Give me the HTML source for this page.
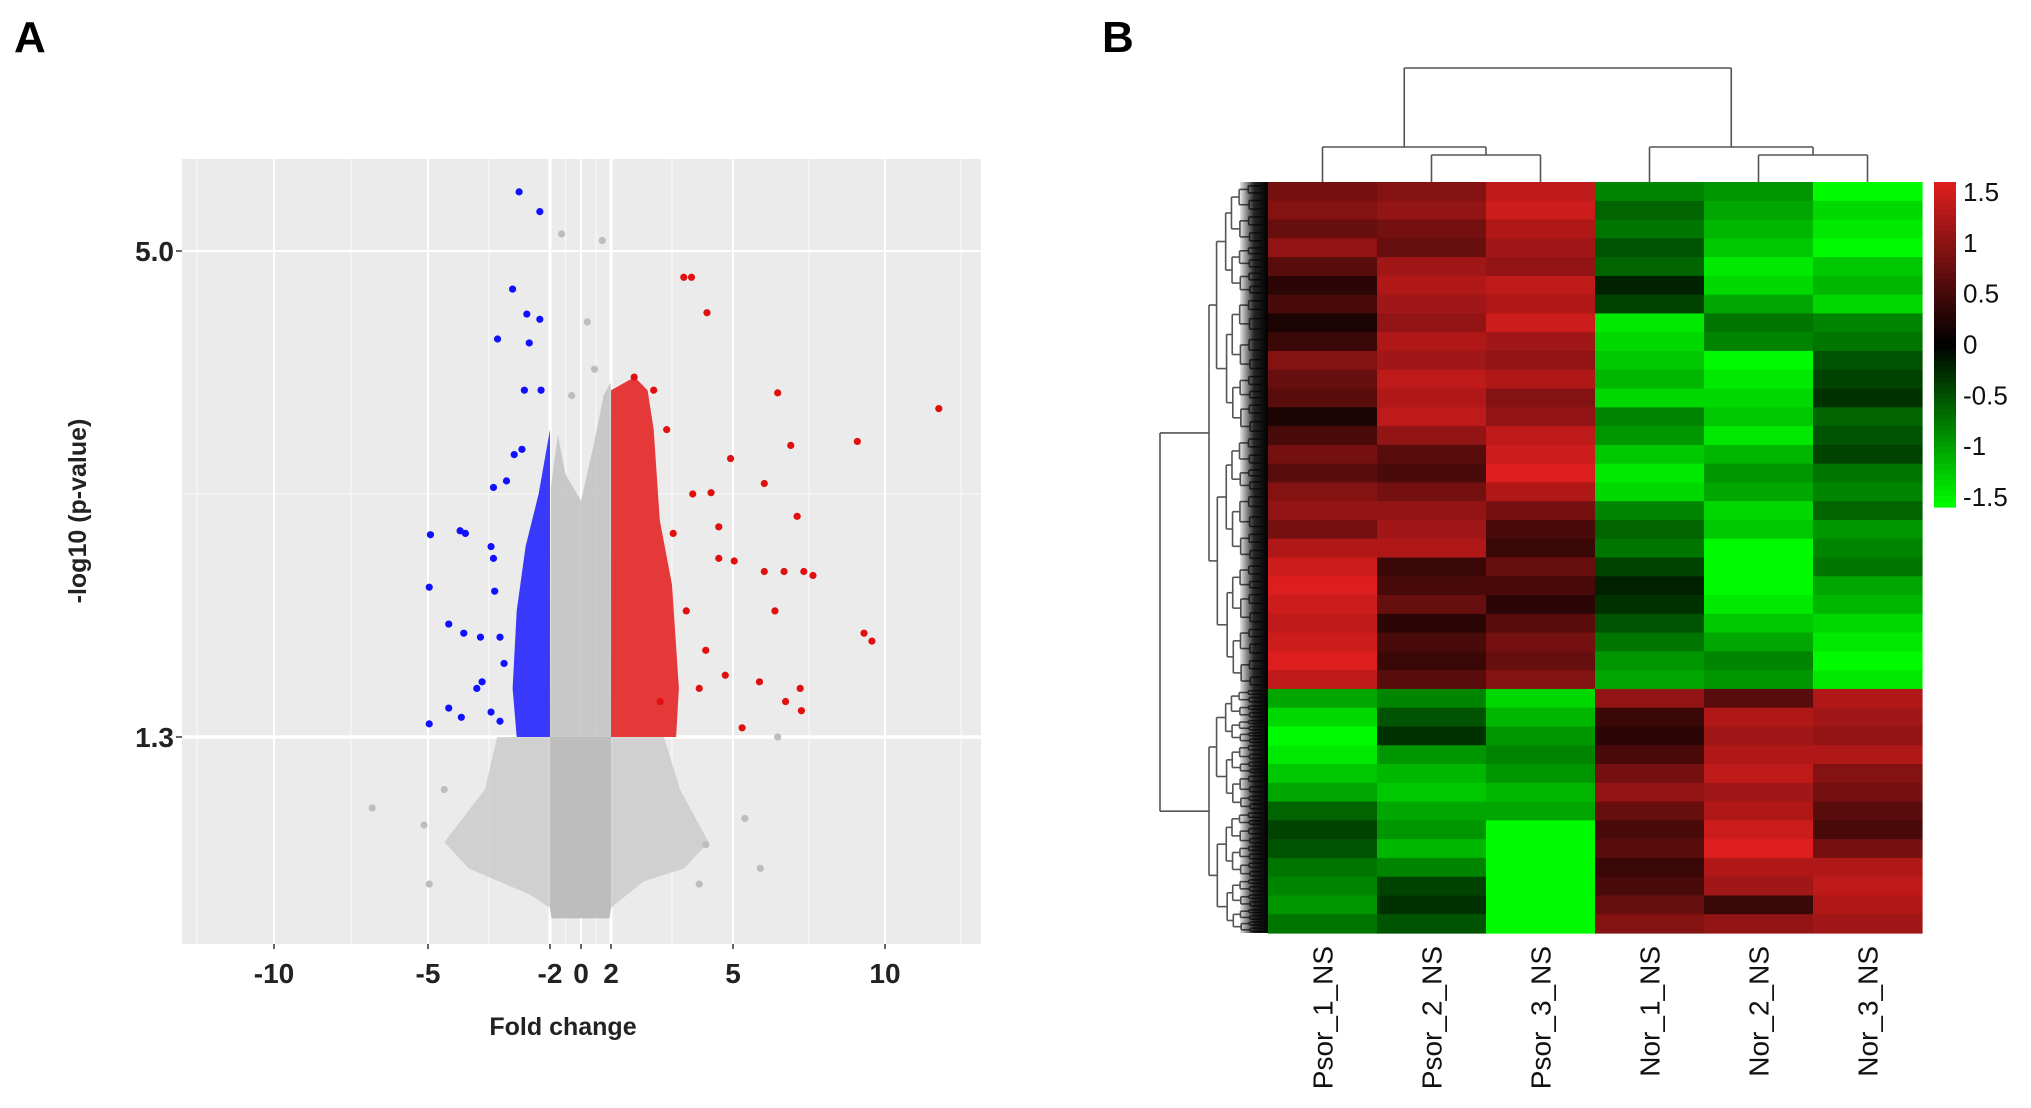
<!DOCTYPE html>
<html><head><meta charset="utf-8">
<style>
html,body{margin:0;padding:0;background:#fff;}
svg{display:block;font-family:"Liberation Sans",sans-serif;}
</style></head>
<body>
<svg id="fig" width="2031" height="1108" viewBox="0 0 2031 1108" xmlns="http://www.w3.org/2000/svg">
  <text x="14" y="52" font-size="44" font-weight="bold">A</text>
  <text x="1102" y="52" font-size="44" font-weight="bold">B</text>
  <g id="volcano"></g>
  <g id="heat"></g>
</svg>
<script>
// ---------- Volcano data ----------
const xTickValues = [-10, -5, -2, 0, 2, 5, 10];
const xTickLabels = ["-10", "-5", "-2", "0", "2", "5", "10"];
const xMinorValues = [-12.5, -7.5, -3.5, -1, 1, 3.5, 7.5, 12.5];
const yTickValues = [5.0, 1.3];
const yTickLabels = ["5.0", "1.3"];
const yMinorValues = [3.15];
const blueFC = [-2.76,-2.25,-2.92,-3.29,-2.57,-2.25,-2.51,-2.63,-2.22,-2.69,-2.88,-4.94,-4.21,-4.08,-4.97,-4.49,-4.12,-3.71,-3.67,-3.80,-4.49,-4.18,-4.97,-3.23,-3.45,-3.39,-3.36,-3.39,-3.07,-3.45,-3.13,-3.23];
const blueP = [5.45,5.30,4.71,4.33,4.52,4.48,4.30,3.94,3.94,3.49,3.45,2.84,2.87,2.85,2.44,2.16,2.09,2.06,1.72,1.67,1.52,1.45,1.40,1.42,1.49,2.66,2.41,3.20,3.25,2.75,1.86,2.06];
const redFC = [3.79,3.98,4.36,6.47,11.77,9.09,6.90,4.94,4.46,6.03,7.11,4.65,7.33,7.63,6.03,6.68,5.04,4.65,3.53,9.31,9.57,7.21,7.25,6.73,5.87,4.81,6.38,4.17,3.21,5.30,3.85,4.33,4.01,3.37,3.05,2.57];
const redP = [4.80,4.80,4.53,3.92,3.80,3.55,3.52,3.42,3.16,3.23,2.98,2.90,2.56,2.53,2.56,2.56,2.64,2.66,2.85,2.09,2.03,1.67,1.50,1.57,1.72,1.77,2.26,1.67,1.57,1.37,2.26,1.96,3.15,3.64,3.94,4.04];
const grayFC = [-1.25,1.42,0.42,-6.81,-5.13,5.39,4.33,4.17,6.47,-4.97,0.9,-0.6,5.9,-4.6];
const grayP = [5.13,5.08,4.46,0.76,0.63,0.68,0.48,0.18,1.30,0.18,4.1,3.9,0.3,0.9];
// density clouds (data units: [fold change, -log10 p])
const redCloud = [[2,1.3],[2,3.94],[2.58,4.04],[2.9,3.94],[3.05,3.64],[3.2,2.95],[3.5,2.46],[3.67,1.67],[3.6,1.3]];
const blueCloud = [[-2,1.3],[-2,3.64],[-2.28,3.15],[-2.6,2.75],[-2.82,2.26],[-2.92,1.67],[-2.82,1.3]];
const grayUpperCloud = [[-2,1.3],[-1.95,3.2],[-1.5,3.6],[-1.0,3.3],[0,3.1],[0.8,3.5],[1.5,3.9],[1.98,4.0],[2,1.3]];
const grayLowerCloud = [[-3.3,1.3],[-3.6,0.9],[-4.6,0.5],[-4.0,0.3],[-2.5,0.1],[-2,0],[-1.9,-0.08],[1.9,-0.08],[2,0],[2.8,0.2],[3.8,0.3],[4.4,0.5],[3.7,0.9],[3.3,1.3]];
const grayCoreCloud = [[-2,1.3],[-2,0],[-1.9,-0.08],[1.9,-0.08],[2,0],[2,1.3]];

// ---------- Heatmap data ----------
const sampleNames = ["Psor_1_NS","Psor_2_NS","Psor_3_NS","Nor_1_NS","Nor_2_NS","Nor_3_NS"];
const psor1 = [0.8,0.9,0.7,1.0,0.6,0.3,0.5,0.2,0.4,0.9,0.7,0.6,0.2,0.5,0.8,0.6,0.9,1.0,0.8,1.2,1.4,1.5,1.4,1.3,1.4,1.5,1.3, -1.0,-1.3,-1.5,-1.4,-1.2,-1.0,-0.6,-0.4,-0.5,-0.7,-0.8,-0.9,-0.7];
const psor2 = [0.9,1.0,0.8,0.7,1.1,1.2,1.1,1.0,1.2,1.1,1.3,1.2,1.3,1.0,0.6,0.5,0.8,1.0,1.1,1.2,0.4,0.5,0.7,0.3,0.5,0.4,0.6, -0.8,-0.5,-0.3,-0.9,-1.1,-1.2,-1.0,-0.9,-1.1,-0.8,-0.4,-0.3,-0.5];
const psor3 = [1.3,1.4,1.2,1.1,1.0,1.3,1.2,1.4,1.1,1.0,1.2,0.9,1.0,1.3,1.4,1.5,1.2,0.8,0.5,0.4,0.7,0.5,0.3,0.6,0.8,0.7,0.9, -1.3,-1.1,-0.9,-0.8,-0.9,-1.1,-1.0,-1.5,-1.6,-1.5,-1.6,-1.5,-1.6];
const nor1 = [-0.8,-0.6,-0.7,-0.5,-0.6,-0.2,-0.4,-1.4,-1.3,-1.2,-1.1,-1.3,-0.8,-0.9,-1.2,-1.4,-1.3,-0.8,-0.6,-0.7,-0.4,-0.2,-0.3,-0.5,-0.7,-0.9,-1.0, 1.0,0.4,0.3,0.5,0.8,1.0,0.7,0.5,0.6,0.4,0.5,0.7,0.9];
const nor2 = [-0.9,-1.0,-1.1,-1.2,-1.4,-1.3,-1.0,-0.7,-0.8,-1.5,-1.4,-1.3,-1.2,-1.4,-1.1,-0.9,-1.0,-1.3,-1.2,-1.5,-1.6,-1.5,-1.4,-1.2,-1.0,-0.8,-0.9, 0.6,1.2,1.1,1.2,1.3,1.1,1.2,1.4,1.5,1.2,1.1,0.4,1.0];
const nor3 = [-1.5,-1.3,-1.4,-1.5,-1.2,-1.1,-1.3,-0.8,-0.7,-0.5,-0.4,-0.3,-0.6,-0.5,-0.4,-0.7,-0.8,-0.6,-0.9,-0.8,-0.7,-1.0,-1.1,-1.3,-1.4,-1.5,-1.4, 1.2,1.1,1.0,1.2,0.9,0.8,0.6,0.5,0.8,1.2,1.3,1.2,1.1];
const colorbarTicks = [1.5,1,0.5,0,-0.5,-1,-1.5];
const colorbarLabels = ["1.5","1","0.5","0","-0.5","-1","-1.5"];

const NS = "http://www.w3.org/2000/svg";
function mk(tag, attrs, parent){const e=document.createElementNS(NS,tag);for(const k in attrs)e.setAttribute(k,attrs[k]);parent.appendChild(e);return e;}

// ---------- Volcano ----------
const V = document.getElementById('volcano');
const bgX0=182, bgX1=981, bgY0=159, bgY1=944;
const bpFC=[-10,-5,-2,0,2,5,10], bpPX=[274,428,550,581,611,733,885];
function xS(v){
  if(v<=bpFC[0]) return bpPX[0]+(v-bpFC[0])*(bpPX[1]-bpPX[0])/5;
  for(let i=0;i<bpFC.length-1;i++){ if(v<=bpFC[i+1]) return bpPX[i]+(v-bpFC[i])*(bpPX[i+1]-bpPX[i])/(bpFC[i+1]-bpFC[i]); }
  const n=bpFC.length-1; return bpPX[n]+(v-bpFC[n])*(bpPX[n]-bpPX[n-1])/5;
}
function yS(p){ return 251+(5-p)*(737-251)/3.7; }

let bg=mk('rect',{x:bgX0,y:bgY0,width:bgX1-bgX0,height:bgY1-bgY0,fill:'#ebebeb'},V);


xMinorValues.forEach(v=>{let l=mk('line',{x1:xS(v),x2:xS(v),y1:bgY0,y2:bgY1,stroke:'#f6f6f6','stroke-width':1.5},V);

});
yMinorValues.forEach(v=>{let l=mk('line',{x1:bgX0,x2:bgX1,y1:yS(v),y2:yS(v),stroke:'#f6f6f6','stroke-width':1.5},V);

});
xTickValues.forEach(v=>{let l=mk('line',{x1:xS(v),x2:xS(v),y1:bgY0,y2:bgY1,stroke:'#ffffff','stroke-width':(v===-2||v===2)?3:2},V);

});
yTickValues.forEach(v=>{let l=mk('line',{x1:bgX0,x2:bgX1,y1:yS(v),y2:yS(v),stroke:'#ffffff','stroke-width':v===1.3?3.5:2},V);

});

function cloud(pts,fill,op,name){
  const d=pts.map((q,i)=>(i?'L':'M')+xS(q[0]).toFixed(1)+' '+yS(q[1]).toFixed(1)).join(' ')+'Z';
  const e=mk('path',{d:d,fill:fill,'fill-opacity':op},V);
  
  
}
cloud(grayLowerCloud,'#c4c4c4',0.7,'gray-lower-cloud');
cloud(grayCoreCloud,'#bdbdbd',1,'gray-core-cloud');
cloud(grayUpperCloud,'#c2c2c2',0.85,'gray-upper-cloud');
cloud(blueCloud,'#1a1aff',0.85,'blue-cloud');
cloud(redCloud,'#e41a1a',0.85,'red-cloud');

function pts(fc,p,col,name){
  fc.forEach((v,i)=>{const c=mk('circle',{cx:xS(v),cy:yS(p[i]),r:3.6,fill:col},V);
  
  });
}
pts(grayFC,grayP,'#bdbdbd','gray-point');
pts(blueFC,blueP,'#1010ff','blue-point');
pts(redFC,redP,'#e01010','red-point');

xTickValues.forEach((v,i)=>{
  const t=mk('line',{x1:xS(v),x2:xS(v),y1:bgY1,y2:bgY1+5,stroke:'#333','stroke-width':1.5},V);
  
  
  const tx=mk('text',{x:xS(v),y:983,'font-size':28,'text-anchor':'middle',fill:'#222','font-weight':'bold'},V);
  tx.textContent=xTickLabels[i];
  
  
});
yTickValues.forEach((v,i)=>{
  const t=mk('line',{x1:bgX0-6,x2:bgX0,y1:yS(v),y2:yS(v),stroke:'#333','stroke-width':1.5},V);
  
  
  const tx=mk('text',{x:bgX0-8,y:yS(v)+10,'font-size':28,'text-anchor':'end',fill:'#222','font-weight':'bold'},V);
  tx.textContent=yTickLabels[i];
  
  
});
let xt=mk('text',{x:563,y:1035,'font-size':25,'text-anchor':'middle',fill:'#222','font-weight':'bold'},V);
xt.textContent='Fold change';


let yt=mk('text',{x:0,y:0,'font-size':25,'text-anchor':'middle',fill:'#222','font-weight':'bold',transform:'translate(86,511) rotate(-90)'},V);
yt.textContent='-log10 (p-value)';



// ---------- Heatmap ----------
const H=document.getElementById('heat');
const hx0=1268,hx1=1922,hy0=182,hy1=933;
const cols=[psor1,psor2,psor3,nor1,nor2,nor3];
const nRows=psor1.length, cw=(hx1-hx0)/cols.length, rh=(hy1-hy0)/nRows;
function colr(v){
  v=Math.max(-1.5,Math.min(1.5,v));
  if(v>=0){const t=v/1.5;return `rgb(${Math.round(220*t)},${Math.round(30*t)},${Math.round(30*t)})`;}
  const t=-v/1.5;return `rgb(0,${Math.round(250*t)},0)`;
}
function colX(i){return hx0+i*cw;}
function rowY(j){return hy0+j*rh;}
cols.forEach((arr,i)=>{arr.forEach((v,j)=>{
  const r=mk('rect',{x:colX(i),y:rowY(j),width:cw+0.6,height:rh+0.6,fill:colr(v)},H);
  
  
});});

// column labels
sampleNames.forEach((s,i)=>{
  const cx=colX(i)+cw/2;
  const t=mk('text',{x:0,y:0,'font-size':28,'text-anchor':'end',fill:'#111',transform:`translate(${cx+10},${946}) rotate(-90)`},H);
  t.textContent=s;
  
  
});

// colorbar
const cbx=1934,cbw=22,cby0=182,cby1=507;
for(let k=0;k<60;k++){
  const v=1.5-3*k/59;
  const r=mk('rect',{x:cbx,y:cby0+k*(cby1-cby0)/60,width:cbw,height:(cby1-cby0)/60+0.6,fill:colr(v)},H);
  
  
}
function cbY(v){return cby0+10+(1.5-v)/3*(cby1-cby0-20);}
colorbarTicks.forEach((v,i)=>{
  const t=mk('text',{x:1963,y:cbY(v)+9,'font-size':26,fill:'#111'},H);
  t.textContent=colorbarLabels[i];
  
  
});

// column dendrogram
const dg='#555';
function seg(x1,y1,x2,y2,name){const l=mk('line',{x1:x1,y1:y1,x2:x2,y2:y2,stroke:dg,'stroke-width':1.6},H);

}
const c0=colX(0)+cw/2,c1=colX(1)+cw/2,c2=colX(2)+cw/2,c3=colX(3)+cw/2,c4=colX(4)+cw/2,c5=colX(5)+cw/2;
const m12=(c1+c2)/2, m45=(c4+c5)/2;
seg(c1,hy0,c1,155,'col-dendro');seg(c2,hy0,c2,155,'col-dendro');seg(c1,155,c2,155,'col-dendro');
seg(c0,hy0,c0,147,'col-dendro');seg(m12,155,m12,147,'col-dendro');seg(c0,147,m12,147,'col-dendro');
seg(c4,hy0,c4,155,'col-dendro');seg(c5,hy0,c5,155,'col-dendro');seg(c4,155,c5,155,'col-dendro');
seg(c3,hy0,c3,147,'col-dendro');seg(m45,155,m45,147,'col-dendro');seg(c3,147,m45,147,'col-dendro');
const mL=(c0+m12)/2, mR=(c3+m45)/2;
seg(mL,147,mL,68,'col-dendro');seg(mR,147,mR,68,'col-dendro');seg(mL,68,mR,68,'col-dendro');

// row dendrogram (structure only)
const leafX=1262;
function tree(y0,y1,x,depth){
  const mid=(y0+y1)/2;
  if(depth>=7||y1-y0<3){seg(x,mid,leafX,mid,'row-dendro');return mid;}
  const step=(leafX-x)/(8-depth)*(0.8+0.4*((depth*7)%3)/2);
  const split=y0+(y1-y0)*(0.45+0.1*((depth*5+Math.round(y0))%3)/2);
  const a=tree(y0,split,x+step,depth+1);
  const b=tree(split,y1,x+step*1.1,depth+1);
  seg(x,a,x,b,'row-dendro');
  seg(x,a,x+step,a,'row-dendro');
  seg(x,b,x+step*1.1,b,'row-dendro');
  return (a+b)/2;
}
const splitY=rowY(27);
const ta=tree(hy0,splitY,1209,1);
const tb=tree(splitY,hy1,1209,1);
seg(1160,ta,1160,tb,'row-dendro');
seg(1160,ta,1209,ta,'row-dendro');
seg(1160,tb,1209,tb,'row-dendro');
const g=mk('defs',{},H);
g.innerHTML='<linearGradient id="lf" x1="0" x2="1"><stop offset="0" stop-color="#000" stop-opacity="0.1"/><stop offset="0.5" stop-color="#000" stop-opacity="0.85"/><stop offset="1" stop-color="#000" stop-opacity="1"/></linearGradient>';
const lf=mk('rect',{x:1240,y:hy0,width:hx0-1240,height:hy1-hy0,fill:'url(#lf)'},H);


</script>
</body></html>
